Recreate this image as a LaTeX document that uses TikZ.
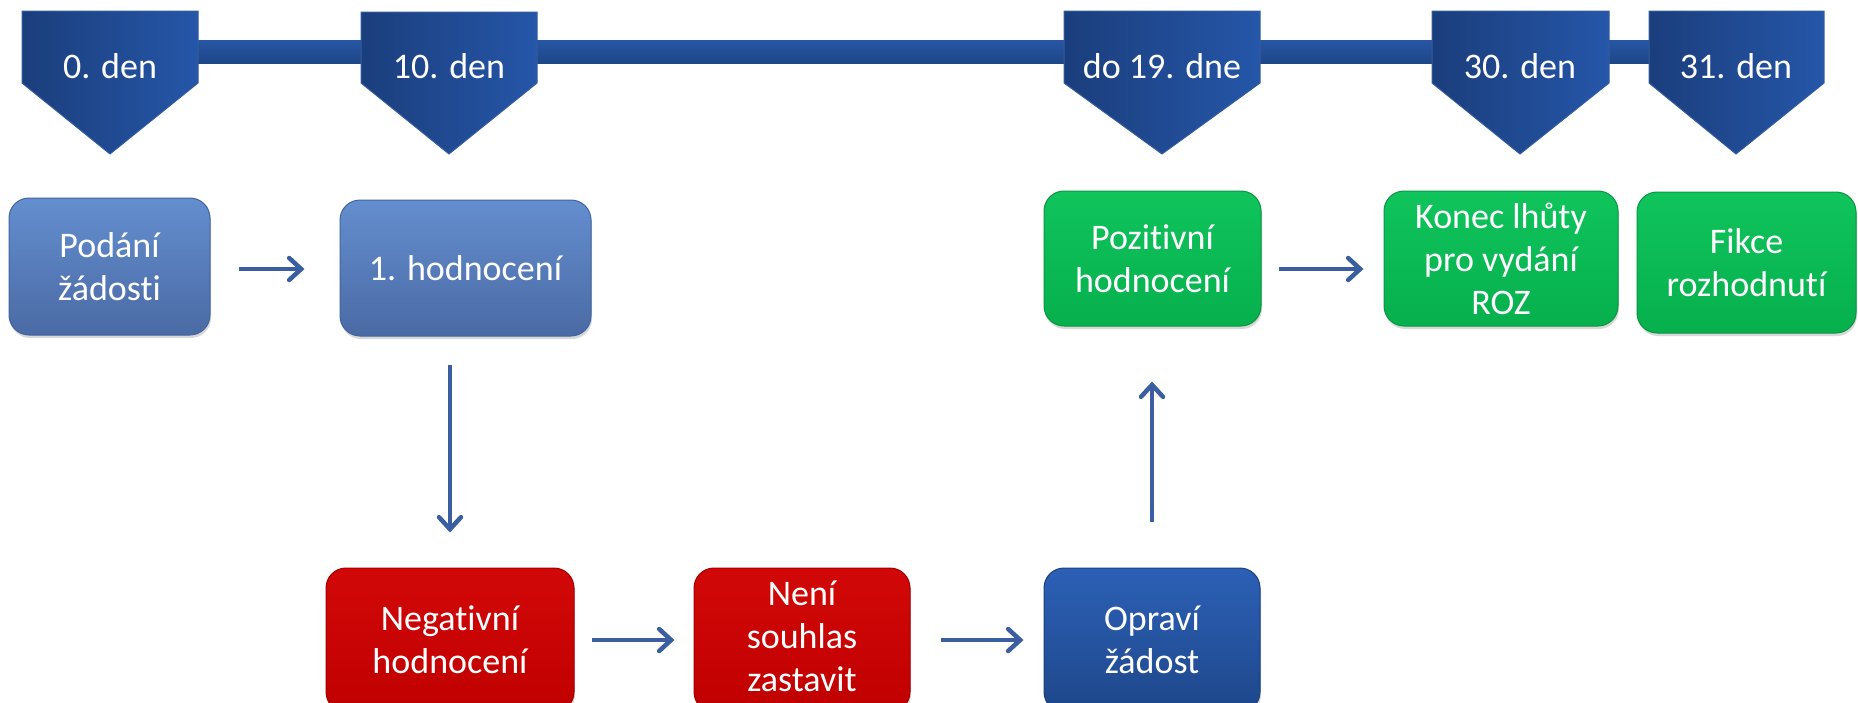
\documentclass[tikz,border=0pt]{standalone}
\usepackage{fontspec}
\setmainfont{Carlito}[Ligatures=NoCommon]
\usetikzlibrary{arrows.meta,shadows,calc}
\definecolor{pentL}{RGB}{27,62,124}
\definecolor{pentR}{RGB}{37,86,168}
\definecolor{pentE}{RGB}{52,92,160}
\definecolor{barT}{RGB}{40,86,164}
\definecolor{barB}{RGB}{30,70,136}
\definecolor{lbT}{RGB}{100,142,207}
\definecolor{lbB}{RGB}{74,106,164}
\definecolor{lbE}{RGB}{66,100,158}
\definecolor{grT}{RGB}{16,196,92}
\definecolor{grB}{RGB}{6,176,77}
\definecolor{grE}{RGB}{8,150,66}
\definecolor{rdT}{RGB}{210,8,8}
\definecolor{rdB}{RGB}{192,0,0}
\definecolor{rdE}{RGB}{160,0,0}
\definecolor{dbT}{RGB}{44,96,182}
\definecolor{dbB}{RGB}{30,71,138}
\definecolor{dbE}{RGB}{27,63,124}
\definecolor{arrC}{RGB}{58,94,159}
\begin{document}
\begin{tikzpicture}[x=1pt,y=-1pt,
  box/.style={rounded corners=20pt, draw, line width=1pt, text=white, align=center,
    font=\fontsize{36}{43}\selectfont, inner sep=0pt,
    drop shadow={shadow xshift=1pt,shadow yshift=-3pt,opacity=0.3}},
  lightbox/.style={box, top color=lbT, bottom color=lbB, draw=lbE},
  greenbox/.style={box, top color=grT, bottom color=grB, draw=grE},
  redbox/.style={box, top color=rdT, bottom color=rdB, draw=rdE},
  darkbox/.style={box, top color=dbT, bottom color=dbB, draw=dbE},
  pent/.style={left color=pentL, right color=pentR, draw=pentE, line width=1pt},
  lbl/.style={text=white, font=\fontsize{36}{43}\selectfont, inner sep=0pt, anchor=base},
  arr/.style={draw=arrC, line width=4.5pt, -{Straight Barb[length=12pt,width=22pt,line cap=round]}}
]
\clip (0,0) rectangle (1858,702);
\fill[white] (0,0) rectangle (1858,702);

% timeline bar
\shade[top color=barT, bottom color=barB] (110,40) rectangle (1736,63);

% pentagons
\shade[pent] (22,11) -- (198,11) -- (198,83) -- (110,154) -- (22,83) -- cycle;
\shade[pent] (361,12) -- (537,12) -- (537,83) -- (449,154) -- (361,83) -- cycle;
\shade[pent] (1064,11) -- (1260,11) -- (1260,83) -- (1162,154) -- (1064,83) -- cycle;
\shade[pent] (1432,11) -- (1609,11) -- (1609,83) -- (1520,154) -- (1432,83) -- cycle;
\shade[pent] (1649,11) -- (1824,11) -- (1824,83) -- (1736,154) -- (1649,83) -- cycle;

\node[lbl] (t0) at (110,78) {0. den};
\node[lbl] (t10) at (449,78) {10. den};
\node[lbl] (t19) at (1162,78) {do 19. dne};
\node[lbl] (t30) at (1520,78) {30. den};
\node[lbl] (t31) at (1736,78) {31. den};

% boxes
\node[lightbox, minimum width=201pt, minimum height=137pt] (pod) at (109.5,266.5) {Podání\\žádosti};
\node[lightbox, minimum width=251pt, minimum height=136pt] (h1) at (465.5,268) {1. hodnocení};
\node[greenbox, minimum width=217pt, minimum height=135pt] (poz) at (1152.5,258.5) {Pozitivní\\hodnocení};
\node[greenbox, minimum width=234pt, minimum height=135pt] (kon) at (1501,258.5) {Konec lhůty\\pro vydání\\ROZ};
\node[greenbox, minimum width=219pt, minimum height=141pt] (fik) at (1746.5,262.5) {Fikce\\rozhodnutí};
\node[redbox, minimum width=248pt, minimum height=144pt] (neg) at (450,640) {Negativní\\hodnocení};
\node[redbox, minimum width=216pt, minimum height=144pt, text depth=8pt] (nen) at (802,640) {Není\\souhlas\\zastavit};
\node[darkbox, minimum width=216pt, minimum height=144pt] (opr) at (1152,640) {Opraví\\žádost};

% reference rows for arrows
\coordinate (r1) at (0,269);
\coordinate (r2) at (0,640);

% connectors
\draw[arr] ([xshift=28pt]pod.east |- r1) -- ([xshift=-35pt]h1.west |- r1);
\draw[arr] ([yshift=-28pt]h1.south -| neg.north) -- ([yshift=35pt]neg.north);
\draw[arr] ([xshift=17pt]neg.east |- r2) -- ([xshift=-19pt]nen.west |- r2);
\draw[arr] ([xshift=30pt]nen.east |- r2) -- ([xshift=-20pt]opr.west |- r2);
\draw[arr] ([yshift=46pt]opr.north) -- ([yshift=-55pt]poz.south -| opr.north);
\draw[arr] ([xshift=17pt]poz.east |- r1) -- ([xshift=-20pt]kon.west |- r1);
\end{tikzpicture}
\end{document}
